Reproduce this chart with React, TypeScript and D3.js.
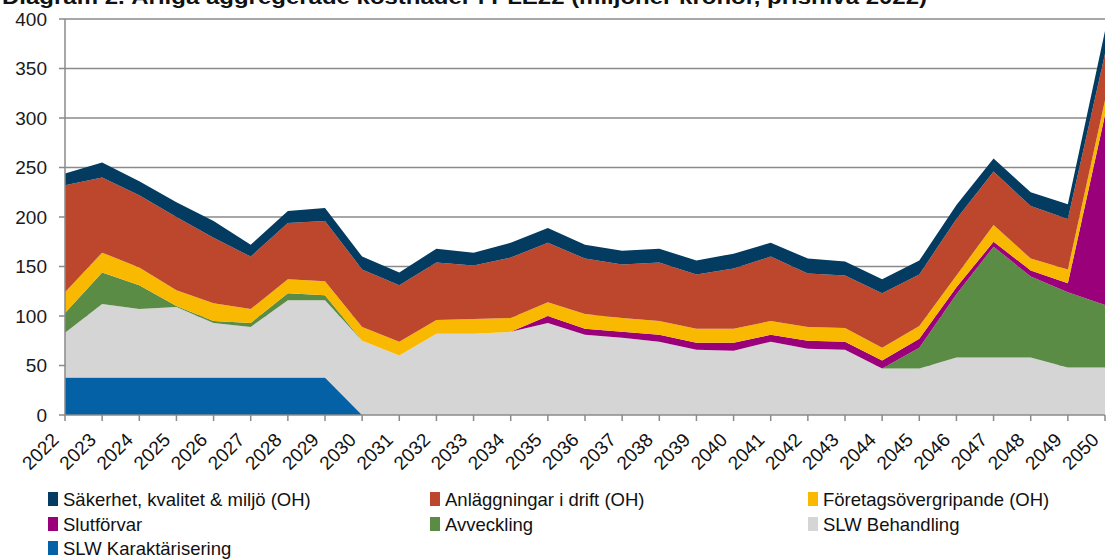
import React from 'react';
import * as d3 from 'd3';

// years on the x axis
const years = ['2022','2023','2024','2025','2026','2027','2028','2029','2030','2031','2032','2033','2034','2035','2036','2037','2038','2039','2040','2041','2042','2043','2044','2045','2046','2047','2048','2049','2050'];

// series values, miljoner kronor
const slwKarakterisering = [38,38,38,38,38,38,38,38,0,0,0,0,0,0,0,0,0,0,0,0,0,0,0,0,0,0,0,0,0];
const slwBehandling = [45,74,69,71,55,51,78,78,75,60,82,82,84,93,81,78,74,66,65,74,67,66,47,47,58,58,58,48,48];
const avveckling = [20,32,24,1,2,4,7,5,0,0,0,0,0,0,0,0,0,0,0,0,0,0,0,21,64,112,82,76,63];
const slutforvar = [0,0,0,0,0,0,0,0,0,0,0,0,0,7,6,6,7,7,8,7,8,8,8,9,7,5,6,9,192];
const foretagsovergripande = [21,20,18,16,18,14,14,14,14,14,14,15,14,14,15,14,14,14,14,14,14,14,13,13,12,17,12,14,15];
const anlaggningar = [108,76,73,74,66,53,57,61,58,57,58,54,61,60,56,54,59,55,61,65,54,53,55,52,57,54,53,51,47];
const sakerhet = [12,15,14,15,17,12,12,13,13,13,14,13,15,15,14,14,14,14,15,14,15,14,14,14,14,13,14,15,23];

const yTicks = [0, 50, 100, 150, 200, 250, 300, 350, 400];

// stacking order, bottom first
const seriesDefs = [
  { key: 'kar', name: 'SLW Karaktärisering', values: slwKarakterisering, color: '#0561a5' },
  { key: 'beh', name: 'SLW Behandling', values: slwBehandling, color: '#d5d5d5' },
  { key: 'avv', name: 'Avveckling', values: avveckling, color: '#5b8c45' },
  { key: 'slu', name: 'Slutförvar', values: slutforvar, color: '#9b007b' },
  { key: 'for', name: 'Företagsövergripande (OH)', values: foretagsovergripande, color: '#f8b900' },
  { key: 'anl', name: 'Anläggningar i drift (OH)', values: anlaggningar, color: '#bc472d' },
  { key: 'sak', name: 'Säkerhet, kvalitet & miljö (OH)', values: sakerhet, color: '#033b61' },
];

// legend reading order (3 columns)
const legendOrder = ['sak', 'anl', 'for', 'slu', 'avv', 'beh', 'kar'];

const W = 1108;
const H = 559;
const FONT = '"Liberation Sans", Arial, sans-serif';

export default function App() {
  const left = 65, right = 1105, top = 19, bottom = 415;

  const x = d3.scalePoint<string>().domain(years).range([left, right]);
  const y = d3.scaleLinear().domain([0, 400]).range([bottom, top]);

  const rows = years.map((yr, i) => {
    const r: any = { year: yr };
    seriesDefs.forEach(s => { r[s.key] = s.values[i]; });
    return r;
  });
  const stacked = d3.stack<any>().keys(seriesDefs.map(s => s.key))(rows);

  const area = d3.area<any>()
    .x(d => x(d.data.year) as number)
    .y0(d => y(d[0]))
    .y1(d => y(d[1]));

  const byKey: Record<string, any> = {};
  seriesDefs.forEach(s => { byKey[s.key] = s; });

  const legendCols = [48, 430, 808];
  const legendRows = [499, 524, 548];

  return (
    <div style={{ position: 'absolute', left: 0, top: 0 }}>
      <svg width={W} height={H} style={{ display: 'block', background: '#fff' }} fontFamily={FONT}>
        {/* title, partly cut off at the top edge like the source */}
        <text x={2} y={4} fontSize={20} fontWeight="bold" fill="#111" textLength={925} lengthAdjust="spacingAndGlyphs">
          Diagram 2. Årliga aggregerade kostnader i PLE22 (miljoner kronor, prisnivå 2022)
        </text>

        {/* gridlines */}
        {yTicks.filter(t => t > 0).map(t => (
          <line key={t} x1={left} x2={right} y1={y(t)} y2={y(t)} stroke="#8a8a8a" strokeWidth={1.5} />
        ))}

        {/* areas */}
        {stacked.map(layer => (
          <path key={layer.key} d={area(layer) || ''} fill={byKey[layer.key].color} />
        ))}

        {/* y axis */}
        <line x1={left} x2={left} y1={top} y2={bottom} stroke="#8a8a8a" strokeWidth={1.5} />
        {yTicks.map(t => (
          <g key={t}>
            <line x1={left - 6} x2={left} y1={y(t)} y2={y(t)} stroke="#8a8a8a" strokeWidth={1.5} />
            <text x={47} y={y(t)} dy="0.36em" textAnchor="end" fontSize={19} fill="#1a1a1a">{t}</text>
          </g>
        ))}

        {/* x axis */}
        <line x1={left} x2={right} y1={bottom} y2={bottom} stroke="#8a8a8a" strokeWidth={1.5} />
        {years.map(yr => {
          const px = x(yr) as number;
          return (
            <g key={yr}>
              <line x1={px} x2={px} y1={bottom} y2={bottom + 6} stroke="#8a8a8a" strokeWidth={1.5} />
              <text transform={`translate(${px - 5},${bottom + 26}) rotate(-45)`} textAnchor="end" fontSize={19} fill="#111">{yr}</text>
            </g>
          );
        })}

        {/* legend */}
        {legendOrder.map((k, i) => {
          const s = byKey[k];
          const lx = legendCols[i % 3];
          const ly = legendRows[Math.floor(i / 3)];
          return (
            <g key={k}>
              <rect x={lx} y={ly - 7} width={10} height={14} fill={s.color} />
              <text x={lx + 15} y={ly} dy="0.36em" fontSize={18.5} fill="#111">{s.name}</text>
            </g>
          );
        })}
      </svg>
    </div>
  );
}
